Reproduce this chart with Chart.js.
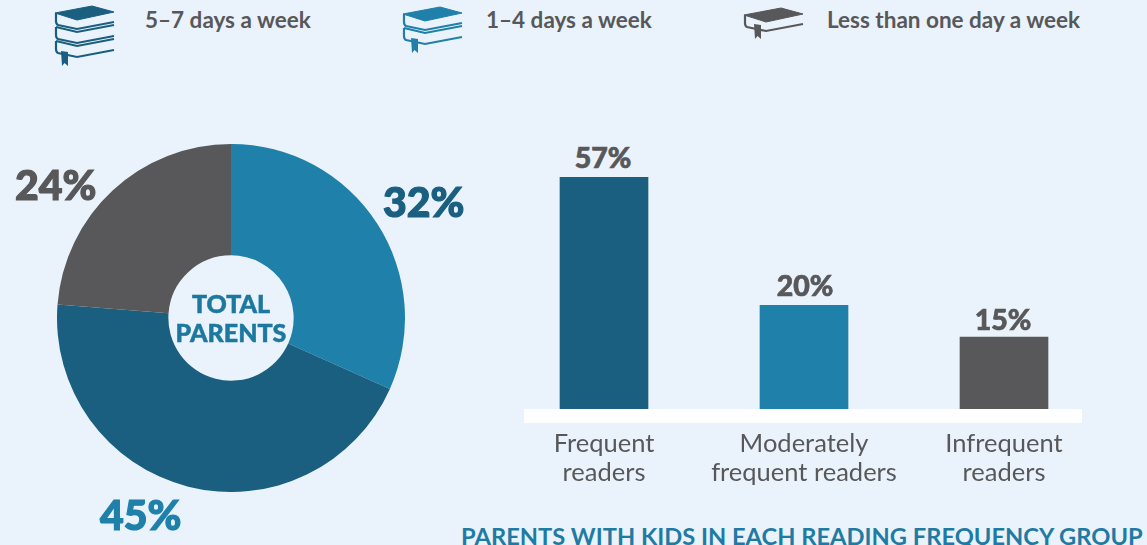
<!DOCTYPE html>
<html><head><meta charset="utf-8">
<script src="https://cdn.jsdelivr.net/npm/chart.js@4"></script>
<style>
html,body{margin:0;padding:0;width:1147px;height:545px;overflow:hidden;background:#eaf3fb;font-family:Lato,sans-serif}
.a{position:absolute;white-space:nowrap}
#pie{position:absolute;left:57px;top:144px}
#bar{position:absolute;left:504px;top:177px}
#band{position:absolute;left:524px;top:409px;width:558px;height:14px;background:#fff}
.leg{font-size:22.5px;font-weight:700;color:#58585a;line-height:26px;top:7px}
.pct{font-weight:900;font-size:41px;line-height:48px;-webkit-text-stroke:1.2px currentColor}
.bl{font-weight:900;font-size:28.5px;line-height:32px;color:#58585a;width:120px;text-align:center;-webkit-text-stroke:.7px currentColor}
#center{left:161px;top:289px;width:140px;text-align:center;font-weight:900;font-size:25px;line-height:29px;color:#1d789f;-webkit-text-stroke:.5px currentColor}
#foot{left:461px;top:521px;font-size:23.7px;font-weight:700;color:#1f7ba3;line-height:30px}
</style></head><body>
<svg class="a" style="left:0;top:0" width="1147" height="80" id="icons"></svg>
<div id="band"></div>
<canvas id="pie" width="348" height="348"></canvas>
<canvas id="bar" width="600" height="332"></canvas>
<div class="a" id="center">TOTAL<br>PARENTS</div>
<div class="a" id="foot">PARENTS WITH KIDS IN EACH READING FREQUENCY GROUP</div>
<script>
const legendLabels = ["5–7 days a week","1–4 days a week","Less than one day a week"];
const pieValues = [32,45,24];
const pieColors = ["#1f80a9","#1a5f80","#58585a"];
const barCategories = [["Frequent","readers"],["Moderately","frequent readers"],["Infrequent","readers"]];
const barLabels = [57,20,15];
// The reference's bars are not proportional to their printed labels; these are the heights as drawn.
const barHeights = [57,25.5,17.7];
const barColors = ["#1a5f80","#1f80a9","#58585a"];

Chart.defaults.animation=false;
Chart.defaults.responsive=false;
Chart.defaults.font.family="Lato, sans-serif";

new Chart(document.getElementById('pie'),{type:'doughnut',
 data:{labels:legendLabels,datasets:[{data:pieValues,backgroundColor:pieColors,borderWidth:0}]},
 options:{cutout:'36%',layout:{padding:0},plugins:{legend:{display:false},tooltip:{enabled:false}}}
});

new Chart(document.getElementById('bar'),{type:'bar',
 data:{labels:barCategories,datasets:[{data:barHeights,backgroundColor:barColors,barThickness:88,borderWidth:0}]},
 options:{layout:{padding:0},
  scales:{y:{min:0,max:57,display:false},
   x:{grid:{display:false},border:{display:false},afterFit(s){s.height=100;},
    ticks:{color:'#58585a',font:{size:25.5,lineHeight:1.14},padding:12,maxRotation:0,autoSkip:false}}},
  plugins:{legend:{display:false},tooltip:{enabled:false}}}
});

const dark="#1a5f80",mid="#1f80a9",gray="#58585a";
function icon(x,y,n,c,mx,my){
 let s=`<path d="M${x},${y+7} L${x+37},${y} L${x+59},${y+6} L${x+22},${y+14} Z" fill="${c}" stroke="${c}" stroke-width="1"/>`;
 for(let i=0;i<n;i++){const d=14*i;
  s+=`<path d="M${x+59},${y+16+d} L${x+22},${y+23+d} L${x+3},${y+19+d} Q${x+1},${y+18+d} ${x+1},${y+15+d} L${x+1},${y+7+d}" fill="none" stroke="${c}" stroke-width="2.2"/>`;
  if(i>0)s+=`<path d="M${x+59},${y+5+d} L${x+22},${y+12+d} L${x+1},${y+7+d}" fill="none" stroke="${c}" stroke-width="2.2"/>`;
 }
 s+=`<path d="M${mx},${my} L${mx+7},${my+1} L${mx+7},${my+15} L${mx+3.5},${my+12} L${mx+1},${my+15} Z" fill="${c}"/>`;
 return s;
}
document.getElementById('icons').innerHTML=
 icon(55,6,3,dark,61,51)+icon(403,7,2,mid,411,38)+icon(744,8,1,gray,754,24);
[[145,0],[486,1],[827,2]].forEach(([l,i])=>{const d=document.createElement('div');d.className='a leg';d.style.left=l+'px';d.textContent=legendLabels[i];document.body.appendChild(d);});
[[383,178,0,dark],[100,491,1,mid],[15,161,2,gray]].forEach(([l,t,i,c])=>{const d=document.createElement('div');d.className='a pct';d.style.left=l+'px';d.style.top=t+'px';d.style.color=c;d.textContent=pieValues[i]+'%';document.body.appendChild(d);});
[[603,141],[805,269],[1003,303]].forEach(([cx,t],i)=>{const d=document.createElement('div');d.className='a bl';d.style.left=(cx-60)+'px';d.style.top=t+'px';d.textContent=barLabels[i]+'%';document.body.appendChild(d);});
</script></body></html>
